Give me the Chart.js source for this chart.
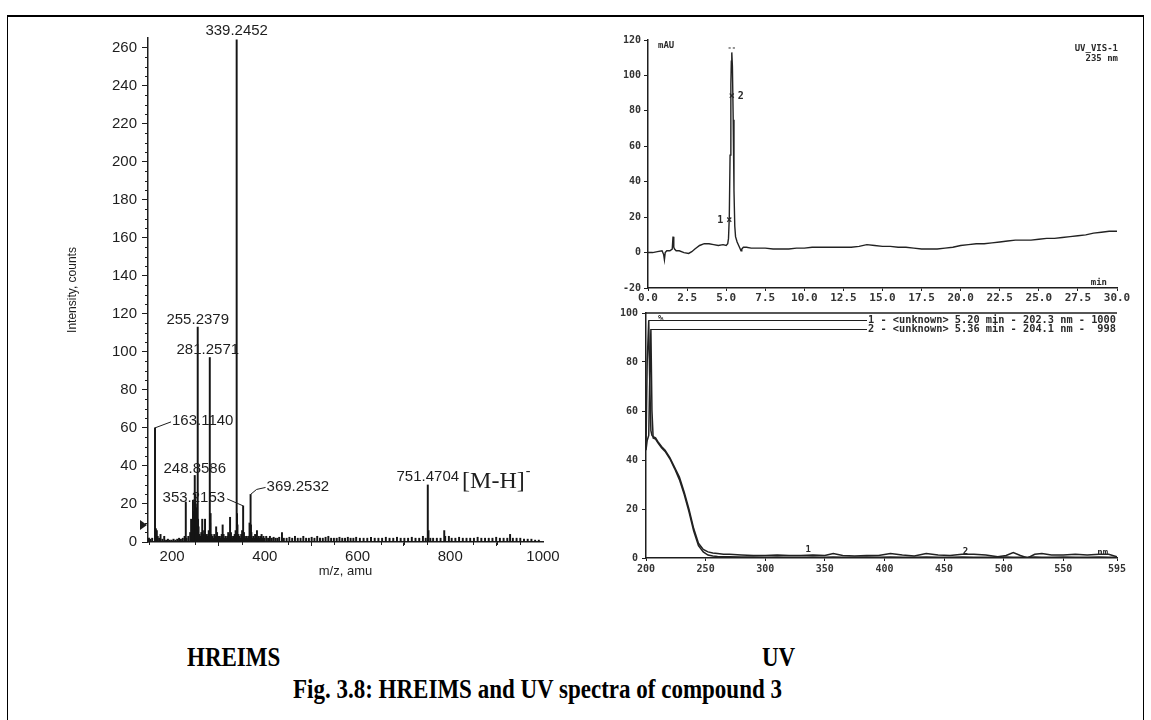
<!DOCTYPE html>
<html>
<head>
<meta charset="utf-8">
<script src="https://cdn.jsdelivr.net/npm/chart.js@4.4.1/dist/chart.umd.min.js"></script>
<style>
  html, body { margin: 0; padding: 0; background: #fff; }
  body { width: 1151px; height: 720px; position: relative; overflow: hidden; }
  .frame { position: absolute; left: 7px; top: 15px; width: 1135px; height: 730px;
           border-top: 2px solid #000; border-left: 1.5px solid #000; border-right: 1.5px solid #000; }
  canvas { position: absolute; }
  #msChart { left: 20px; top: 20px; }
  #lcChart { left: 590px; top: 25px; }
  #uvChart { left: 590px; top: 300px; }
  .cap { position: absolute; font-family: "Liberation Serif", "Times New Roman", serif; font-weight: bold;
         font-size: 23px; line-height: 23px; color: #000; white-space: nowrap;
         transform: scaleY(1.22); transform-origin: 50% 84%; }
</style>
</head>
<body>
<div class="frame"></div>
<canvas id="msChart" width="560" height="580"></canvas>
<canvas id="lcChart" width="555" height="285"></canvas>
<canvas id="uvChart" width="555" height="290"></canvas>
<div class="cap" style="left:187px; top:647px;">HREIMS</div>
<div class="cap" style="left:762px; top:647px;">UV</div>
<div class="cap" style="left:0; width:1075px; text-align:center; top:679px;">Fig. 3.8: HREIMS and UV spectra of compound 3</div>

<script>
// ---------- HREIMS (m/z vs intensity) ----------
const msMz = [
  150, 153, 157, 163.1140, 165, 167, 169, 172, 175, 179,
  183, 187, 191, 195, 199, 203, 207, 211, 215, 219,
  223, 227, 229.5, 231, 235, 239, 241, 243, 245, 247,
  248.8586, 250, 251, 252, 253, 255.2379, 256, 257, 259, 261,
  263, 265, 267, 269, 271, 273, 275, 277, 279, 281.2571,
  282, 283, 285, 287, 289, 291, 293, 295, 297, 299,
  301, 303, 305, 307, 309, 311, 313, 315, 317, 319,
  321, 323, 325, 327, 329, 331, 333, 335, 337, 339.2452,
  340, 341, 343, 345, 347, 349, 351, 353.2153, 355, 357,
  359, 361, 363, 365, 367, 369.2532, 370, 371, 373, 375,
  377, 379, 381, 383, 385, 387, 389, 391, 393, 395,
  397, 399, 403, 407, 411, 415, 419, 423, 427, 431,
  437, 441, 447, 453, 459, 465, 471, 477, 483, 489,
  495, 501, 507, 513, 519, 525, 531, 537, 543, 549,
  555, 561, 567, 573, 579, 585, 591, 597, 605, 613,
  621, 629, 637, 645, 653, 661, 669, 677, 685, 693,
  701, 709, 717, 725, 733, 741, 747, 751.4704, 753, 757,
  763, 771, 779, 787, 789, 797, 803, 811, 819, 827,
  835, 843, 851, 859, 867, 875, 883, 891, 899, 907,
  915, 923, 929, 935, 943, 951, 959, 967, 975, 983, 991
];
const msIntensity = [
  2, 1.5, 2, 60, 7, 6, 3, 2, 4, 1.5,
  3, 1, 1.5, 1, 1, 1.5, 1, 1.5, 2, 1.5,
  2, 3, 21, 2, 3, 5, 12, 8, 22, 16,
  35, 25, 20, 14, 18, 113, 12, 8, 4, 3,
  5, 12, 4, 6, 12, 3, 4, 3, 6, 97,
  10, 15, 4, 3, 2, 4, 3, 8, 5, 3,
  2, 3, 2, 4, 9, 4, 2, 3, 2, 3,
  5, 4, 13, 5, 3, 2, 3, 4, 6, 264,
  15, 9, 4, 3, 2, 4, 6, 19, 5, 3,
  2, 3, 2, 3, 10, 25, 9, 5, 2, 3,
  2, 4, 3, 6, 2, 3, 2, 3, 4, 2,
  3, 2, 3, 2, 3, 2, 2.5, 2, 2, 2.5,
  5, 2, 2, 2.5, 2, 3, 2, 2, 3, 2,
  2, 2.5, 2, 3, 2, 2, 2.5, 3, 2, 2,
  2, 2.5, 2, 2, 2.5, 2, 2, 2.5, 2, 2,
  2, 2.5, 2, 2, 2, 2.5, 2, 2, 2.5, 2,
  2, 2, 2.5, 2, 2, 3, 2, 30, 6, 2,
  2, 2, 2, 6, 3, 3, 2, 2, 2.5, 2,
  2, 2, 2, 2.5, 2, 2, 2, 2, 2.5, 2,
  2, 2, 4, 2, 2, 2, 1.5, 1.5, 1.5, 1, 1
];
const msXTicks = [200, 400, 600, 800, 1000];
const msYTicks = [0, 20, 40, 60, 80, 100, 120, 140, 160, 180, 200, 220, 240, 260];
const msLabelMz = [339.2452, 255.2379, 281.2571, 163.1140, 248.8586, 353.2153, 369.2532, 751.4704];

// ---------- HPLC trace (time vs mAU) ----------
const lcTime = [
  0, 0.3, 0.6, 0.9, 1.0, 1.05, 1.1, 1.2, 1.4, 1.55,
  1.6, 1.65, 1.7, 1.8, 2.0, 2.3, 2.6, 2.8, 3.0, 3.3,
  3.6, 3.9, 4.2, 4.5, 4.8, 5.0, 5.1, 5.15, 5.2, 5.25,
  5.3, 5.33, 5.36, 5.4, 5.45, 5.5, 5.55, 5.6, 5.7, 5.8,
  5.9, 5.95, 6.0, 6.1, 6.3, 6.6, 7.0, 7.5, 8.0, 8.5,
  9.0, 9.5, 10.0, 10.5, 11.0, 11.5, 12.0, 12.5, 13.0, 13.5,
  14.0, 14.5, 15.0, 15.5, 16.0, 16.5, 17.0, 17.5, 18.0, 18.5,
  19.0, 19.5, 20.0, 20.5, 21.0, 21.5, 22.0, 22.5, 23.0, 23.5,
  24.0, 24.5, 25.0, 25.5, 26.0, 26.5, 27.0, 27.5, 28.0, 28.5,
  29.0, 29.5, 30.0
];
const lcMau = [
  0, 0, 0.5, 1, -1, -4, 0, 1, 1, 2,
  9, 3, 2, 1, 1, 0, -0.5, 0.5, 2, 4,
  5, 5, 4.5, 4, 4.5, 4, 5, 8, 20, 55,
  95, 108, 113, 105, 75, 35, 15, 9, 6, 4,
  2, 1, 2, 3, 3, 2.5, 2.5, 2.5, 2, 2,
  2, 2.5, 2.5, 3, 3, 3, 3, 3, 3, 3.5,
  4.5, 4, 3.5, 3.5, 3, 3, 2.5, 2, 2, 2,
  2.5, 3, 4, 4.5, 5, 5, 5.5, 6, 6.5, 7,
  7, 7, 7.5, 8, 8, 8.5, 9, 9.5, 10, 11,
  11.5, 12, 12
];
const lcXTicks = [0, 2.5, 5, 7.5, 10, 12.5, 15, 17.5, 20, 22.5, 25, 27.5, 30];
const lcYTicks = [-20, 0, 20, 40, 60, 80, 100, 120];
const lcPeaks = [5.2, 5.36];

// ---------- UV spectra (nm vs %) ----------
const uvNm = [
  200, 201, 202.3, 203, 204.1, 205, 206, 208, 210, 213,
  216, 220, 224, 228, 232, 236, 240, 244, 248, 252,
  256, 260, 265, 270, 280, 290, 300, 310, 320, 330,
  340, 350, 357, 365, 375, 385, 395, 405, 415, 425,
  435, 445, 455, 465, 475, 485, 495, 502, 508, 514,
  520, 526, 532, 540, 550, 560, 570, 580, 588, 595
];
const uvSpec1 = [
  45, 80, 97, 75, 52, 50, 49.5, 49, 47.5, 45.5,
  44, 41, 37, 33, 27, 20, 12, 6, 3.5, 2.5,
  2, 1.8, 1.5, 1.5, 1.2, 1, 1, 1.2, 1, 1,
  1.2, 1, 1.8, 1, 0.8, 1, 1, 1.8, 1.2, 0.8,
  1.8, 1.2, 1, 1.5, 1.5, 1.2, 0.5, 1, 2.2, 1,
  0, 1.5, 1.8, 1.2, 1.2, 1.5, 1.2, 1.5, 1.5, 0.5
];
const uvSpec2 = [
  44, 48, 50, 70, 93.5, 60, 49, 48.5, 47, 45,
  43.5, 40.5, 36.5, 32, 26, 19, 11, 5, 2.5, 1.2,
  0.8, 0.6, 0.5, 0.5, 0.4, 0.4, 0.3, 0.4, 0.3, 0.3,
  0.4, 0.3, 0.4, 0.3, 0.3, 0.4, 0.3, 0.4, 0.3, 0.3,
  0.4, 0.3, 0.3, 0.4, 0.3, 0.3, 0.3, 0.4, 0.3, 0.3,
  0.3, 0.4, 0.3, 0.3, 0.4, 0.3, 0.3, 0.4, 0.3, 0.3
];
const uvLegend = ['1 - <unknown> 5.20 min - 202.3 nm - 1000', '2 - <unknown> 5.36 min - 204.1 nm -  998'];
const uvPeakNm = [202.3, 204.1];
const uvXTicks = [200, 250, 300, 350, 400, 450, 500, 550, 595];
const uvYTicks = [0, 20, 40, 60, 80, 100];

const INK = '#1e1e1e';
const SANS = '"Liberation Sans", Arial, sans-serif';
const MONO = '"DejaVu Sans Mono", monospace';

function useTicks(values) {
  return function (scale) { scale.ticks = values.map(v => ({ value: v })); };
}
function fixSize(px) {
  return function (scale) {
    if (scale.isHorizontal()) scale.height = px; else scale.width = px;
  };
}
function toPoints(xs, ys) {
  return xs.map((x, i) => ({ x: x, y: ys[i] }));
}
function seg(ctx, pts) {
  ctx.beginPath();
  ctx.moveTo(pts[0][0], pts[0][1]);
  for (let i = 1; i < pts.length; i++) ctx.lineTo(pts[i][0], pts[i][1]);
  ctx.stroke();
}

// label placement for the HREIMS peaks (same order as msLabelMz)
const msLabelPlace = [
  { align: 'center', dx: 0, dy: -9 },
  { align: 'center', dx: 0, dy: -7 },
  { align: 'center', dx: -2, dy: -8 },
  { align: 'left', dx: 17, dy: -7, lead: [[0, 0], [16, -6]] },
  { align: 'center', dx: 0, dy: -7 },
  { align: 'right', dx: -18, dy: -8, lead: [[0, 0], [-16, -7]] },
  { align: 'left', dx: 16, dy: -8, lead: [[0, 0], [6, -5], [15, -7]] },
  { align: 'center', dx: 0, dy: -8 }
];

const msMarks = {
  id: 'msMarks',
  afterDraw(chart) {
    const { ctx, chartArea: area, scales: { x, y } } = chart;
    ctx.save();
    ctx.strokeStyle = INK;
    ctx.lineWidth = 1;
    // minor ticks
    for (let v = 5; v < 265; v += 5) {
      if (v % 20 === 0) continue;
      const py = Math.round(y.getPixelForValue(v)) + 0.5;
      seg(ctx, [[area.left - 3, py], [area.left, py]]);
    }
    for (let v = 150; v < 1000; v += 50) {
      if (v % 200 === 0) continue;
      const px = Math.round(x.getPixelForValue(v)) + 0.5;
      seg(ctx, [[px, area.bottom], [px, area.bottom + 3]]);
    }
    // precursor marker on the y axis
    const my = y.getPixelForValue(9);
    ctx.fillStyle = INK;
    ctx.beginPath();
    ctx.moveTo(area.left - 8, my - 5);
    ctx.lineTo(area.left - 1, my);
    ctx.lineTo(area.left - 8, my + 5);
    ctx.closePath();
    ctx.fill();
    // peak labels
    ctx.font = '15px ' + SANS;
    ctx.textBaseline = 'middle';
    msLabelMz.forEach((mz, i) => {
      const p = msLabelPlace[i];
      const px = x.getPixelForValue(mz);
      const py = y.getPixelForValue(msIntensity[msMz.indexOf(mz)]);
      if (p.lead) seg(ctx, p.lead.map(q => [px + q[0], py + q[1]]));
      ctx.textAlign = p.align;
      ctx.fillText(mz.toFixed(4), px + p.dx, py + p.dy);
      if (i === msLabelMz.length - 1) {
        const tw = ctx.measureText(mz.toFixed(4)).width;
        const sx = px + tw / 2 + 3;
        ctx.textAlign = 'left';
        ctx.textBaseline = 'alphabetic';
        ctx.font = '24px "Liberation Serif", "Times New Roman", serif';
        ctx.fillText('[M-H]', sx, py + 3);
        const bw = ctx.measureText('[M-H]').width;
        ctx.font = '14px "Liberation Serif", serif';
        ctx.fillText('-', sx + bw + 1, py - 10);
      }
    });
    ctx.restore();
  }
};

new Chart(document.getElementById('msChart'), {
  type: 'bar',
  data: {
    datasets: [{
      data: toPoints(msMz, msIntensity),
      backgroundColor: '#151515',
      barThickness: 1.3
    }]
  },
  options: {
    responsive: false,
    animation: false,
    devicePixelRatio: 1,
    events: [],
    layout: { padding: { left: 45, right: 37, top: 18, bottom: 21 } },
    plugins: { legend: { display: false }, tooltip: { enabled: false } },
    scales: {
      x: {
        type: 'linear', min: 148, max: 1000, offset: false,
        grid: { drawOnChartArea: false, tickLength: 4, color: INK },
        border: { color: INK, width: 1.5 },
        ticks: { font: { family: SANS, size: 15 }, color: INK, padding: 2, maxRotation: 0, autoSkip: false,
                 callback: v => String(v) },
        title: { display: true, text: 'm/z, amu', font: { family: SANS, size: 13 }, color: INK, padding: 0 },
        afterBuildTicks: useTicks(msXTicks),
        afterFit: fixSize(37)
      },
      y: {
        min: 0, max: 265,
        grid: { drawOnChartArea: false, tickLength: 6, color: INK },
        border: { color: INK, width: 1.5 },
        ticks: { font: { family: SANS, size: 15 }, color: INK, padding: 5, autoSkip: false },
        title: { display: true, text: 'Intensity, counts', font: { family: SANS, size: 12 }, color: INK, padding: 0 },
        afterBuildTicks: useTicks(msYTicks),
        afterFit: fixSize(83)
      }
    }
  },
  plugins: [msMarks]
});

// ---------- HPLC chart ----------
const lcMarks = {
  id: 'lcMarks',
  afterDraw(chart) {
    const { ctx, chartArea: area, scales: { x, y } } = chart;
    ctx.save();
    ctx.fillStyle = '#2a2a2a';
    ctx.font = 'bold 9px ' + MONO;
    ctx.textBaseline = 'middle';
    ctx.textAlign = 'left';
    ctx.fillText('mAU', area.left + 10, area.top + 6);
    ctx.textAlign = 'right';
    ctx.fillText('UV_VIS-1', area.right + 1, area.top + 9);
    ctx.fillText('235 nm', area.right + 1, area.top + 19);
    ctx.fillText('min', area.right - 10, area.bottom - 5);
    // peak markers
    ctx.font = 'bold 10px ' + MONO;
    lcPeaks.forEach((t, i) => {
      const px = x.getPixelForValue(t);
      const py = y.getPixelForValue(i === 0 ? 18 : 88);
      ctx.textAlign = 'center';
      ctx.fillText('\u00d7', px, py);
      if (i === 0) { ctx.textAlign = 'right'; ctx.fillText('1', px - 6, py); }
      else { ctx.textAlign = 'left'; ctx.fillText('2', px + 6, py); }
    });
    ctx.font = 'bold 7px ' + MONO;
    ctx.textAlign = 'center';
    ctx.fillText('--', x.getPixelForValue(lcPeaks[1]), y.getPixelForValue(115.5));
    ctx.restore();
  }
};

new Chart(document.getElementById('lcChart'), {
  type: 'line',
  data: {
    datasets: [{
      data: toPoints(lcTime, lcMau),
      borderColor: '#222',
      borderWidth: 1.4,
      pointRadius: 0,
      tension: 0
    }]
  },
  options: {
    responsive: false,
    animation: false,
    devicePixelRatio: 1,
    events: [],
    layout: { padding: { left: 0, right: 28, top: 15, bottom: 0 } },
    plugins: { legend: { display: false }, tooltip: { enabled: false } },
    scales: {
      x: {
        type: 'linear', min: 0, max: 30,
        grid: { drawOnChartArea: false, tickLength: 3, color: INK },
        border: { color: INK, width: 1.5 },
        ticks: { font: { family: MONO, size: 11, weight: 'bold' }, color: '#333', padding: 1,
                 maxRotation: 0, autoSkip: false, callback: v => v.toFixed(1) },
        afterBuildTicks: useTicks(lcXTicks),
        afterFit: fixSize(22)
      },
      y: {
        min: -20, max: 120,
        grid: { drawOnChartArea: false, tickLength: 4, color: INK },
        border: { color: INK, width: 1.5 },
        ticks: { font: { family: MONO, size: 10, weight: 'bold' }, color: '#333', padding: 3, autoSkip: false },
        afterBuildTicks: useTicks(lcYTicks),
        afterFit: fixSize(58)
      }
    }
  },
  plugins: [lcMarks]
});

// ---------- UV chart ----------
const uvMarks = {
  id: 'uvMarks',
  afterDraw(chart) {
    const { ctx, chartArea: area, scales: { x, y } } = chart;
    ctx.save();
    ctx.strokeStyle = INK;
    ctx.lineWidth = 1.5;
    seg(ctx, [[area.left, area.top], [area.right, area.top]]);
    // legend lines
    ctx.lineWidth = 1.2;
    ctx.fillStyle = '#2a2a2a';
    ctx.font = 'bold 10.3px ' + MONO;
    ctx.textBaseline = 'middle';
    ctx.textAlign = 'left';
    const tx = area.left + 222;
    const specs = [uvSpec1, uvSpec2];
    uvPeakNm.forEach((nm, i) => {
      const px = x.getPixelForValue(nm);
      const py = Math.round(y.getPixelForValue(specs[i][uvNm.indexOf(nm)])) + 0.5;
      seg(ctx, [[px, py], [tx - 1, py]]);
      ctx.fillText(uvLegend[i], tx, py);
    });
    ctx.font = 'bold 9px ' + MONO;
    ctx.fillText('%', x.getPixelForValue(210), y.getPixelForValue(97.5));
    ctx.textAlign = 'center';
    ctx.fillText('1', x.getPixelForValue(336), y.getPixelForValue(3.5));
    ctx.fillText('2', x.getPixelForValue(468), y.getPixelForValue(2.5));
    ctx.fillText('nm', x.getPixelForValue(583), y.getPixelForValue(2));
    ctx.restore();
  }
};

new Chart(document.getElementById('uvChart'), {
  type: 'line',
  data: {
    datasets: [
      { data: toPoints(uvNm, uvSpec1), borderColor: '#222', borderWidth: 1.5, pointRadius: 0, tension: 0 },
      { data: toPoints(uvNm, uvSpec2), borderColor: '#222', borderWidth: 1.5, pointRadius: 0, tension: 0 }
    ]
  },
  options: {
    responsive: false,
    animation: false,
    devicePixelRatio: 1,
    events: [],
    layout: { padding: { left: 0, right: 28, top: 13, bottom: 0 } },
    plugins: { legend: { display: false }, tooltip: { enabled: false } },
    scales: {
      x: {
        type: 'linear', min: 200, max: 595,
        grid: { drawOnChartArea: false, tickLength: 3, color: INK },
        border: { color: INK, width: 1.5 },
        ticks: { font: { family: MONO, size: 10, weight: 'bold' }, color: '#333', padding: 2,
                 maxRotation: 0, autoSkip: false },
        afterBuildTicks: useTicks(uvXTicks),
        afterFit: fixSize(32)
      },
      y: {
        min: 0, max: 100,
        grid: { drawOnChartArea: false, tickLength: 4, color: INK },
        border: { color: INK, width: 1.5 },
        ticks: { font: { family: MONO, size: 10, weight: 'bold' }, color: '#333', padding: 4, autoSkip: false },
        afterBuildTicks: useTicks(uvYTicks),
        afterFit: fixSize(56)
      }
    }
  },
  plugins: [uvMarks]
});
</script>
</body>
</html>
